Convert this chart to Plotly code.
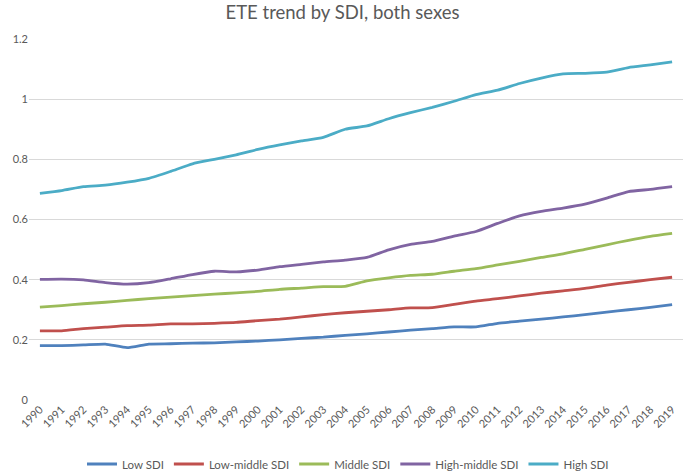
import plotly.graph_objects as go

years = [str(y) for y in range(1990, 2020)]

low_sdi = [0.181, 0.181, 0.183, 0.186, 0.174, 0.186, 0.187, 0.189, 0.190, 0.193,
           0.196, 0.200, 0.205, 0.209, 0.215, 0.220, 0.226, 0.232, 0.237, 0.243,
           0.243, 0.255, 0.262, 0.269, 0.276, 0.284, 0.292, 0.300, 0.308, 0.317]
low_middle_sdi = [0.230, 0.230, 0.237, 0.242, 0.247, 0.249, 0.253, 0.253, 0.255, 0.258,
                  0.264, 0.269, 0.276, 0.284, 0.290, 0.295, 0.300, 0.306, 0.307, 0.318,
                  0.329, 0.337, 0.346, 0.355, 0.363, 0.371, 0.382, 0.391, 0.400, 0.408]
middle_sdi = [0.309, 0.314, 0.320, 0.325, 0.331, 0.337, 0.342, 0.347, 0.352, 0.356,
              0.361, 0.368, 0.372, 0.377, 0.378, 0.396, 0.406, 0.414, 0.418, 0.428,
              0.437, 0.449, 0.461, 0.474, 0.486, 0.501, 0.516, 0.531, 0.544, 0.554]
high_middle_sdi = [0.401, 0.402, 0.399, 0.390, 0.385, 0.390, 0.403, 0.417, 0.428, 0.426,
                   0.432, 0.443, 0.451, 0.459, 0.465, 0.474, 0.499, 0.517, 0.527, 0.545,
                   0.560, 0.587, 0.612, 0.627, 0.638, 0.651, 0.671, 0.693, 0.700, 0.709]
high_sdi = [0.687, 0.696, 0.709, 0.714, 0.724, 0.737, 0.760, 0.785, 0.800, 0.815,
            0.833, 0.848, 0.861, 0.873, 0.900, 0.911, 0.935, 0.955, 0.973, 0.993,
            1.015, 1.030, 1.052, 1.070, 1.084, 1.086, 1.090, 1.105, 1.114, 1.124]

series_names = ["Low SDI", "Low-middle SDI", "Middle SDI", "High-middle SDI", "High SDI"]
series_values = [low_sdi, low_middle_sdi, middle_sdi, high_middle_sdi, high_sdi]
series_colors = ["#4F81BD", "#C0504D", "#9BBB59", "#8064A2", "#4BACC6"]

y_tickvals = [0, 0.2, 0.4, 0.6, 0.8, 1.0, 1.2]
y_ticktext = ["0", "0.2", "0.4", "0.6", "0.8", "1", "1.2"]

font_family = "Lato, 'Open Sans', sans-serif"
text_color = "#595959"

fig = go.Figure()
for name, vals, col in zip(series_names, series_values, series_colors):
    fig.add_trace(go.Scatter(
        x=years, y=vals, name=name, mode="lines",
        line=dict(color=col, width=2.8, shape="spline", smoothing=0.5),
    ))

fig.update_layout(
    width=685, height=471,
    margin=dict(l=29, r=2, t=39, b=71, autoexpand=False),
    paper_bgcolor="white", plot_bgcolor="white",
    font=dict(family=font_family, color=text_color, size=11),
    title=dict(text="ETE trend by SDI, both sexes", x=0.5, xanchor="center",
               y=1 - 13 / 471, yanchor="middle",
               font=dict(size=18.5, color=text_color, family=font_family)),
    legend=dict(orientation="h", x=(348 - 29) / 654, xanchor="center",
                yref="container", y=1 - 464 / 471, yanchor="middle",
                font=dict(size=11.5, color=text_color), traceorder="normal"),
    showlegend=True,
)
fig.update_xaxes(
    type="category", range=[-0.5, 29.5], tickangle=-45,
    showgrid=False, showline=False, ticks="", zeroline=False,
    tickfont=dict(size=11, color=text_color),
)
fig.update_yaxes(
    range=[0, 1.2], tickvals=y_tickvals, ticktext=y_ticktext,
    showgrid=True, gridcolor="#D9D9D9", gridwidth=1,
    zeroline=False, showline=False, ticks="", ticklen=0,
    tickfont=dict(size=11, color=text_color),
)

fig.write_html(
    "out.html",
    config={"displayModeBar": False},
    post_script="document.body.style.margin='0';document.body.style.padding='0';",
)
